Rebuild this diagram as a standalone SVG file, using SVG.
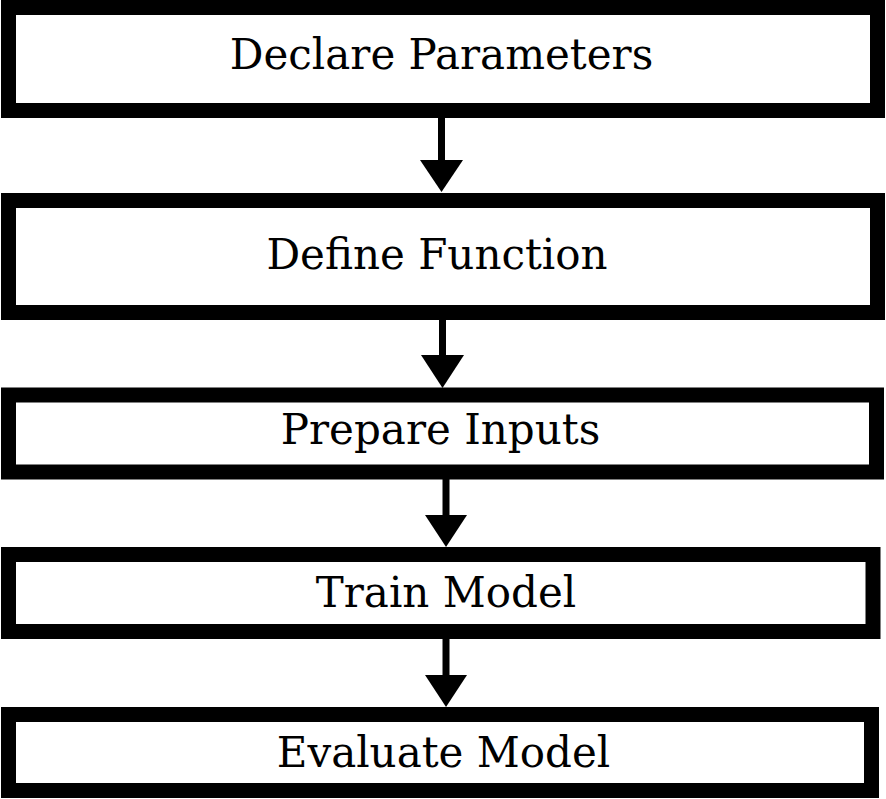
<svg xmlns="http://www.w3.org/2000/svg" width="886" height="799" viewBox="0 0 886 799">
<style>
.box{fill:#fff;stroke:#000;stroke-width:15}
.lbl{font-family:"DejaVu Serif","Liberation Serif",serif;font-size:42px;fill:#000;text-anchor:middle}
.shaft{stroke:#000;stroke-width:7;fill:none}
.head{fill:#000;stroke:none}
</style>
<rect width="886" height="799" fill="#fff"/>
<g id="connectors">
<line class="shaft" x1="441.5" y1="118" x2="441.5" y2="162"/>
<polygon class="head" points="420,160 463,160 441.5,192"/>
<line class="shaft" x1="442.5" y1="320" x2="442.5" y2="357"/>
<polygon class="head" points="421,355 464,355 442.5,388"/>
<line class="shaft" x1="446" y1="479" x2="446" y2="517"/>
<polygon class="head" points="425,515 467,515 446,547"/>
<line class="shaft" x1="446" y1="639" x2="446" y2="677"/>
<polygon class="head" points="425,675 467,675 446,707"/>
</g>
<g id="node-declare">
<rect class="box" x="8.5" y="7.5" width="869" height="103"/>
<text class="lbl" x="441.5" y="69">Declare Parameters</text>
</g>
<g id="node-define">
<rect class="box" x="8.5" y="200.5" width="869" height="112"/>
<text class="lbl" x="437" y="269">Define Function</text>
</g>
<g id="node-prepare">
<rect class="box" x="8.5" y="395" width="868" height="77"/>
<text class="lbl" x="440.5" y="444">Prepare Inputs</text>
</g>
<g id="node-train">
<rect class="box" x="8.5" y="554.5" width="864.5" height="77"/>
<text class="lbl" x="446" y="607">Train Model</text>
</g>
<g id="node-evaluate">
<rect class="box" x="8.5" y="714.5" width="863" height="76"/>
<text class="lbl" x="443.5" y="767">Evaluate Model</text>
</g>
</svg>
